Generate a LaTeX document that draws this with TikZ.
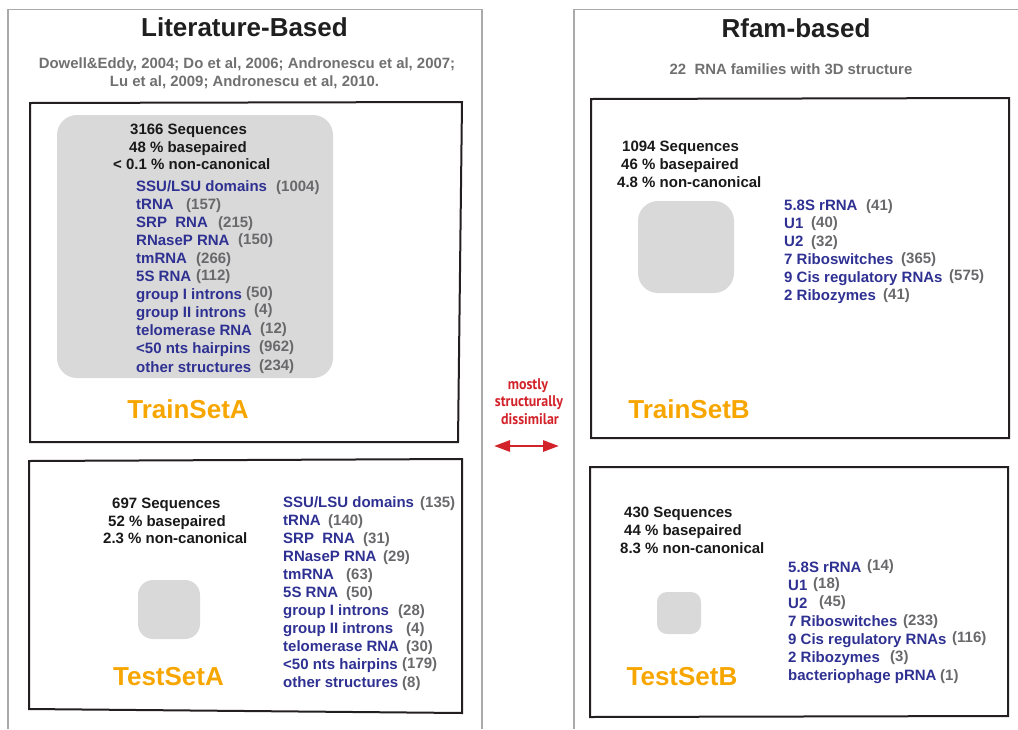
\documentclass[tikz,border=0pt]{standalone}
\usepackage{fontspec}
\setmainfont{Liberation Sans}
\newfontfamily\notefont{PT Sans}[FakeStretch=0.9]
\usetikzlibrary{arrows.meta}

\definecolor{panelgrey}{RGB}{170,170,170}
\definecolor{boxline}{RGB}{35,31,32}
\definecolor{fillgrey}{RGB}{217,217,217}
\definecolor{itemblue}{RGB}{46,49,146}
\definecolor{countgrey}{RGB}{105,105,108}
\definecolor{citegrey}{RGB}{112,112,112}
\definecolor{setorange}{RGB}{247,166,0}
\definecolor{notered}{RGB}{210,35,42}

\tikzset{
  panel/.style={draw=panelgrey, line width=1.3pt},
  setbox/.style={draw=boxline, line width=2pt, line join=miter},
  blob/.style={fill=fillgrey, rounded corners=#1},
  heading/.style={font=\fontsize{26}{30}\selectfont\bfseries, text=black!88, anchor=base, inner sep=0pt},
  cite/.style={font=\fontsize{14.9}{18}\selectfont\bfseries, text=citegrey, anchor=base, inner sep=0pt},
  stat/.style={font=\fontsize{15}{18}\selectfont\bfseries, text=black!90, anchor=base west, inner sep=0pt},
  item/.style={font=\fontsize{15}{18}\selectfont\bfseries, text=itemblue, anchor=base west, inner sep=0pt},
  count/.style={font=\fontsize{15}{18}\selectfont\bfseries, text=countgrey, anchor=base west, inner sep=0pt},
  setname/.style={font=\fontsize{26}{30}\selectfont\bfseries, text=setorange, anchor=base, inner sep=0pt},
  note/.style={font=\notefont\fontsize{15.5}{18}\selectfont\bfseries, text=notered, anchor=base, inner sep=0pt},
  twoway/.style={draw=notered, line width=2.8pt,
    {Triangle[length=16pt,width=11pt]}-{Triangle[length=16pt,width=11pt]}},
}

\begin{document}
\begin{tikzpicture}[x=1pt,y=-1pt]
\useasboundingbox (0,0) rectangle (1018,729);

% two open panels
\draw[panel] (8,729) |- (482,9.5) -- (482,729);
\draw[panel] (574,729) |- (1018,9.5);

% panel headings
\node[heading] (litTitle) at (244.5,36) {Literature-Based};
\node[cite] (cite1) at (247,68.5) {Dowell\&Eddy, 2004; Do et al, 2006; Andronescu et al, 2007;};
\node[cite] (cite2) at (244.5,86.5) {Lu et al, 2009; Andronescu et al, 2010.};
\node[heading] (rfamTitle) at (796,37) {Rfam-based};
\node[cite] (rfamSub) at (791,74) {22\ \ RNA families with 3D structure};

% data set frames
\draw[setbox] (30,103) -- (462,102) -- (458,442) -- (30,442) -- cycle;
\draw[setbox] (29,461) -- (462,459) -- (462,713) -- (29,709) -- cycle;
\draw[setbox] (591,99) -- (1009,98) -- (1009,438) -- (591,438) -- cycle;
\draw[setbox] (590,467) -- (1008,467) -- (1008,716) -- (590,717) -- cycle;

% grey size markers
\fill[blob=20pt] (57,115) rectangle (333,378);
\fill[blob=15pt] (138,580) rectangle (200,639);
\fill[blob=20pt] (638,201) rectangle (734,293);
\fill[blob=10pt] (657,592) rectangle (701,634);

% TrainSetA
\node[stat] (aSeq) at (130,134) {3166 Sequences};
\node[stat] (aBp) at (129,152) {48 \% basepaired};
\node[stat] (aNc) at (113,169.5) {< 0.1 \% non-canonical};
\foreach \lab/\cx/\num/\dy [count=\i from 0] in {
  {SSU/LSU domains}/276/1004/0, {tRNA}/186/157/0, {SRP\ \ RNA}/218/215/0,
  {RNaseP RNA}/238/150/1, {tmRNA}/196/266/0, {5S RNA}/196/112/1,
  {group I introns}/246/50/2, {group II introns}/254/4/3,
  {telomerase RNA}/260/12/2, {<50 nts hairpins}/259/962/2,
  {other structures}/259/234/2} {
  \node[item] (ra\i) at (136,{191+18.1*\i}) {\lab};
  \node[count] (ran\i) at (\cx,{191+18.1*\i-\dy}) {(\num)};
}
\node[setname] (trainA) at (188,418) {TrainSetA};

% TestSetA
\node[stat] (tSeq) at (112,508.5) {697 Sequences};
\node[stat] (tBp) at (108,526) {52 \% basepaired};
\node[stat] (tNc) at (103,543.7) {2.3 \% non-canonical};
\foreach \lab/\cx/\num/\dy [count=\i from 0] in {
  {SSU/LSU domains}/420/135/0, {tRNA}/328/140/0, {SRP\ \ RNA}/363/31/0,
  {RNaseP RNA}/383/29/0, {tmRNA}/346/63/0, {5S RNA}/346/50/0,
  {group I introns}/398/28/0, {group II introns}/406/4/0,
  {telomerase RNA}/406/30/0, {<50 nts hairpins}/402/179/1,
  {other structures}/402/8/0} {
  \node[item] (ta\i) at (283,{507.7+18*\i}) {\lab};
  \node[count] (tan\i) at (\cx,{507.7+18*\i-\dy}) {(\num)};
}
\node[setname] (testA) at (168.5,685) {TestSetA};

% TrainSetB
\node[stat] (bSeq) at (622,151.7) {1094 Sequences};
\node[stat] (bBp) at (621,169.3) {46 \% basepaired};
\node[stat] (bNc) at (617,187.3) {4.8 \% non-canonical};
\foreach \lab/\cx/\num/\dy [count=\i from 0] in {
  {5.8S rRNA}/866/41/0, {U1}/811/40/1, {U2}/811/32/0,
  {7 Riboswitches}/901/365/1, {9 Cis regulatory RNAs}/949/575/2,
  {2 Ribozymes}/883/41/1} {
  \node[item] (rb\i) at (784,{210.7+18*\i}) {\lab};
  \node[count] (rbn\i) at (\cx,{210.7+18*\i-\dy}) {(\num)};
}
\node[setname] (trainB) at (689,418) {TrainSetB};

% TestSetB
\node[stat] (uSeq) at (624,517.3) {430 Sequences};
\node[stat] (uBp) at (624,535) {44 \% basepaired};
\node[stat] (uNc) at (620,553.3) {8.3 \% non-canonical};
\foreach \lab/\cx/\num/\dy [count=\i from 0] in {
  {5.8S rRNA}/867/14/2, {U1}/813/18/2, {U2}/819/45/2,
  {7 Riboswitches}/903/233/1, {9 Cis regulatory RNAs}/952/116/2,
  {2 Ribozymes}/890/3/1, {bacteriophage pRNA}/940/1/0} {
  \node[item] (tb\i) at (788,{572.3+18.07*\i}) {\lab};
  \node[count] (tbn\i) at (\cx,{572.3+18.07*\i-\dy}) {(\num)};
}
\node[setname] (testB) at (682,685) {TestSetB};

% relation between the two collections
\node[note] (n1) at (528,389.3) {mostly};
\node[note] (n2) at (529,406.7) {structurally};
\node[note] (n3) at (530,424.3) {dissimilar};
\coordinate (arrL) at (494,446);
\coordinate (arrR) at (559,446);
\draw[twoway] (arrL) -- (arrR);
\end{tikzpicture}
\end{document}
